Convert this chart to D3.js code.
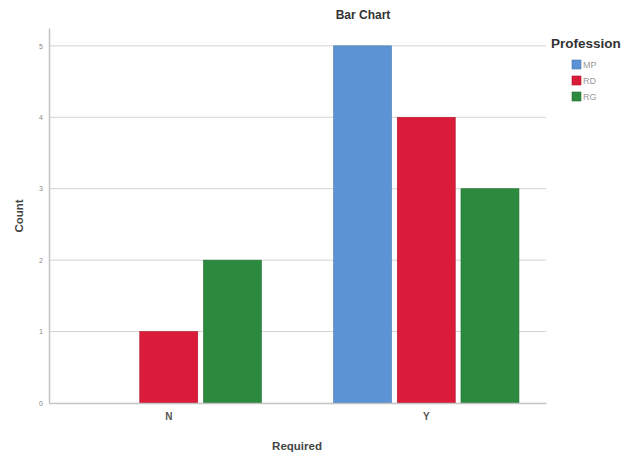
<!DOCTYPE html>
<html><head><meta charset="utf-8">
<script src="https://cdn.jsdelivr.net/npm/d3@7"></script>
<style>body{margin:0;background:#fff}svg{display:block}text{font-family:"Liberation Sans",Arial,sans-serif}</style>
</head><body>
<script>
const categories = ["N", "Y"];
const professions = ["MP", "RD", "RG"];
const mpValues = [0, 5];
const rdValues = [1, 4];
const rgValues = [2, 3];
const yTicks = [0, 1, 2, 3, 4, 5];
const colors = ["#5b93d4", "#da1b3a", "#2b8a3e"];
const seriesValues = [mpValues, rdValues, rgValues];

const W = 622, H = 459;
const plotLeft = 49, plotRight = 546, plotTop = 28, plotBottom = 403;
const svg = d3.select("body").append("svg").attr("width", W).attr("height", H);

const y = d3.scaleLinear().domain([0, 5.25]).range([plotBottom, plotTop]);
const x0 = d3.scaleBand().domain(categories).range([plotLeft, plotRight]).paddingInner(0.28).paddingOuter(0.105);
const x1 = d3.scaleBand().domain(professions).range([0, x0.bandwidth()]).paddingInner(0.09);

// gridlines
svg.append("g").selectAll("line").data(yTicks.filter(d => d > 0)).join("line")
  .attr("x1", plotLeft).attr("x2", plotRight).attr("y1", d => y(d)).attr("y2", d => y(d))
  .attr("stroke", "#d4d4d4").attr("stroke-width", 1);

// y axis
const yAxis = svg.append("g").attr("transform", `translate(${plotLeft},0)`)
  .call(d3.axisLeft(y).tickValues(yTicks).tickSize(0).tickPadding(6).tickFormat(d3.format("d")));
yAxis.select(".domain").attr("stroke", "#c4c4c4").attr("stroke-width", 1.5);
yAxis.selectAll("text").attr("font-size", 7).attr("fill", "#888");

// bars
const data = [];
categories.forEach((c, i) => professions.forEach((p, j) => data.push({c, p, v: seriesValues[j][i], col: colors[j]})));
svg.append("g").selectAll("rect").data(data.filter(d => d.v > 0)).join("rect")
  .attr("x", d => x0(d.c) + x1(d.p))
  .attr("y", d => y(d.v))
  .attr("width", x1.bandwidth())
  .attr("height", d => y(0) - y(d.v))
  .attr("fill", d => d.col)
  .attr("stroke", d => d3.color(d.col).darker(0.6))
  .attr("stroke-width", 0.6);

// x axis
const xAxis = svg.append("g").attr("transform", `translate(0,${plotBottom})`)
  .call(d3.axisBottom(x0).tickSize(0).tickPadding(10));
xAxis.select(".domain").attr("stroke", "#c4c4c4").attr("stroke-width", 1.5);
xAxis.selectAll("text").attr("font-size", 10).attr("font-weight", "bold").attr("fill", "#555");

// titles
svg.append("text").attr("x", 363).attr("y", 19).attr("text-anchor", "middle")
  .attr("font-size", 12).attr("font-weight", "bold").attr("fill", "#333").text("Bar Chart");
svg.append("text").attr("x", 297).attr("y", 450).attr("text-anchor", "middle")
  .attr("font-size", 11.5).attr("font-weight", "bold").attr("fill", "#444").text("Required");
svg.append("text").attr("transform", "translate(23,216) rotate(-90)").attr("text-anchor", "middle")
  .attr("font-size", 11.5).attr("font-weight", "bold").attr("fill", "#444").text("Count");

// legend
const lg = svg.append("g");
lg.append("text").attr("x", 551).attr("y", 48).attr("font-size", 13.5).attr("font-weight", "bold")
  .attr("fill", "#333").text("Profession");
const li = lg.selectAll("g.item").data(professions).join("g").attr("class", "item")
  .attr("transform", (d, i) => `translate(572,${60 + i * 16})`);
li.append("rect").attr("width", 9).attr("height", 9).attr("fill", (d, i) => colors[i])
  .attr("stroke", (d, i) => d3.color(colors[i]).darker(0.6)).attr("stroke-width", 0.6);
li.append("text").attr("x", 11).attr("y", 8).attr("font-size", 9).attr("fill", "#999").text(d => d);
</script>
</body></html>
